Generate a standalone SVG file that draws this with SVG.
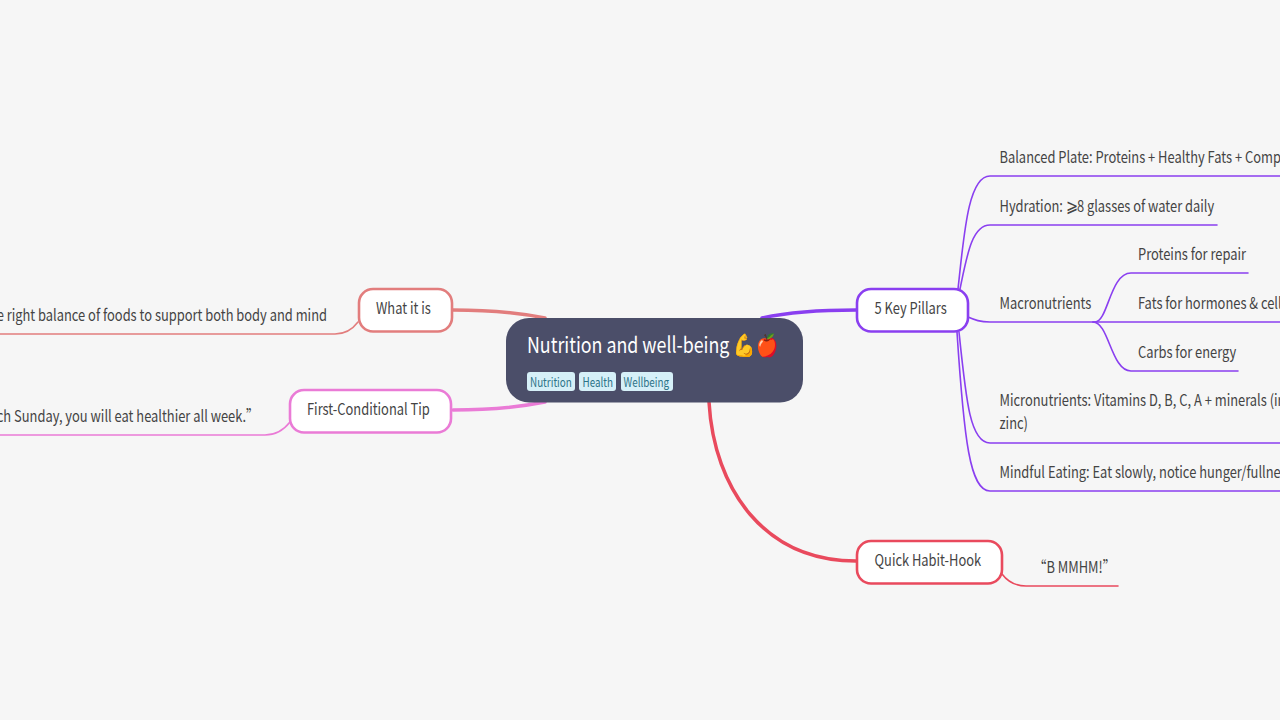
<svg xmlns="http://www.w3.org/2000/svg" width="1280" height="720" viewBox="0 0 1280 720">
<style>
text{font-family:"Noto Sans CJK SC","Noto Sans",sans-serif;font-size:16px;fill:#444}
.l{fill:none;stroke-linecap:round}
.n{fill:#fff;stroke-width:2.6}
.tag{fill:#d6f0f8}
.tt{font-size:13px;fill:#2d7488}
</style>
<rect width="1280" height="720" fill="#f6f6f6"/>
<g id="connectors" class="l">
<path d="M545 318C515 312 490 310 453 310" stroke="#e27d7d" stroke-width="3.5"/>
<path d="M545 402C515 408 490 410 453 410" stroke="#ea7bd6" stroke-width="3.5"/>
<path d="M762 318C790 312 820 310 856 310" stroke="#8a3ff0" stroke-width="3.5"/>
<path d="M709 402C714 490 765 561 856 561" stroke="#e94a5d" stroke-width="3.5"/>
<path d="M358 322C352 330 345 334 335 334H0" stroke="#e27d7d" stroke-width="1.6"/>
<path d="M290 422C283 431 275 435 265 435H0" stroke="#ea7bd6" stroke-width="1.6"/>
<g stroke="#8a3ff0" stroke-width="1.6">
<path d="M958 289C964 235 968 176 990 176H1280"/>
<path d="M960 289C967 255 972 225 990 225H1217"/>
<path d="M968 317C975 320 980 322 990 322H1095C1108 322 1110 273 1131 273H1248"/>
<path d="M1093 322H1280"/>
<path d="M1093 322C1109 322 1111 371 1131 371H1238"/>
<path d="M959 332C966 400 970 443 990 443H1280"/>
<path d="M957 332C964 440 970 491 990 491H1280"/>
</g>
<path d="M1002 574C1008 582 1016 586 1026 586H1118" stroke="#e94a5d" stroke-width="1.6"/>
</g>
<g id="root">
<rect x="506" y="318" width="297" height="84.500" rx="23" fill="#4b4e69"/>
<text transform="translate(527 353) scale(.81 1)" style="font-size:22px;fill:#fff">Nutrition and well-being 💪🍎</text>
<rect class="tag" x="527" y="372" width="48" height="19" rx="3"/><text class="tt" transform="translate(530 387) scale(.76 1)">Nutrition</text>
<rect class="tag" x="579" y="372" width="37" height="19" rx="3"/><text class="tt" transform="translate(582.500 387) scale(.76 1)">Health</text>
<rect class="tag" x="621" y="372" width="52" height="19" rx="3"/><text class="tt" transform="translate(623.500 387) scale(.76 1)">Wellbeing</text>
</g>
<g id="what-it-is"><rect class="n" x="359" y="289" width="93" height="42.500" rx="14" stroke="#e27d7d"/><text transform="translate(376 314) scale(.806 1)">What it is</text></g>
<g id="what-it-is-detail"><text transform="translate(327 321) scale(.806 1)" text-anchor="end">e right balance of foods to support both body and mind</text></g>
<g id="tip"><rect class="n" x="290" y="390" width="161" height="42.500" rx="14" stroke="#ea7bd6"/><text transform="translate(307 414.500) scale(.806 1)">First-Conditional Tip</text></g>
<g id="tip-detail"><text transform="translate(259 422) scale(.806 1)" text-anchor="end">ch Sunday, you will eat healthier all week.”</text></g>
<g id="pillars"><rect class="n" x="857" y="289" width="111" height="42.500" rx="14" stroke="#8a3ff0"/><text transform="translate(874.500 314) scale(.806 1)">5 Key Pillars</text></g>
<g id="plate"><text transform="translate(999.500 163) scale(.806 1)">Balanced Plate: Proteins + Healthy Fats + Comp</text></g>
<g id="hydration"><text transform="translate(999.500 211.500) scale(.806 1)">Hydration: <tspan style="font-size:18px">⩾</tspan><tspan dx="-.5">8 glasses of water daily</tspan></text></g>
<g id="macro"><text transform="translate(999.500 309) scale(.806 1)">Macronutrients</text></g>
<g id="proteins"><text transform="translate(1138 260) scale(.806 1)">Proteins for repair</text></g>
<g id="fats"><text transform="translate(1138 309) scale(.806 1)">Fats for hormones &amp; cell</text></g>
<g id="carbs"><text transform="translate(1138 357.500) scale(.806 1)">Carbs for energy</text></g>
<g id="micro"><text transform="translate(999.500 405.500) scale(.806 1)">Micronutrients: Vitamins D, B, C, A + minerals (ir</text><text transform="translate(999.500 429) scale(.806 1)">zinc)</text></g>
<g id="mindful"><text transform="translate(999.500 478) scale(.806 1)">Mindful Eating: Eat slowly, notice hunger/fullne</text></g>
<g id="hook"><rect class="n" x="857" y="541" width="145" height="42.500" rx="14" stroke="#e94a5d"/><text transform="translate(874.500 565.500) scale(.806 1)">Quick Habit-Hook</text></g>
<g id="hook-detail"><text transform="translate(1033.500 572.500) scale(.806 1)">“B MMHM!”</text></g>
</svg>
